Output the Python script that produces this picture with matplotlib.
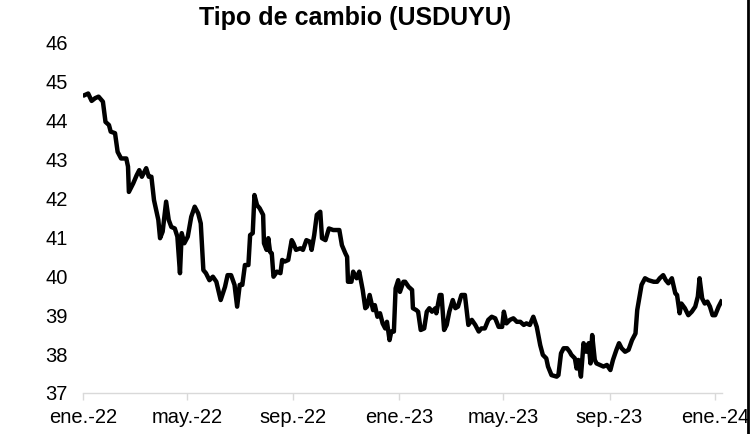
import matplotlib
matplotlib.use("Agg")
import matplotlib.pyplot as plt
from matplotlib.lines import Line2D
import pandas as pd

plt.rcParams['font.family'] = ['Liberation Sans', 'DejaVu Sans']

# USDUYU, valores
dates = [
    "2022-01-03", "2022-01-07", "2022-01-11", "2022-01-15", "2022-01-19", "2022-01-24", "2022-01-27", "2022-01-31",
    "2022-02-02", "2022-02-07", "2022-02-10", "2022-02-14", "2022-02-20", "2022-02-22", "2022-02-23", "2022-02-28",
    "2022-03-04", "2022-03-07", "2022-03-10", "2022-03-15", "2022-03-18", "2022-03-21", "2022-03-24", "2022-03-29",
    "2022-03-31", "2022-04-03", "2022-04-07", "2022-04-10", "2022-04-13", "2022-04-17", "2022-04-20", "2022-04-23",
    "2022-04-25", "2022-04-28", "2022-05-02", "2022-05-06", "2022-05-10", "2022-05-14", "2022-05-17", "2022-05-20",
    "2022-05-23", "2022-05-27", "2022-05-31", "2022-06-04", "2022-06-09", "2022-06-14", "2022-06-17", "2022-06-21",
    "2022-06-25", "2022-06-28", "2022-07-01", "2022-07-04", "2022-07-07", "2022-07-11", "2022-07-13", "2022-07-16",
    "2022-07-18", "2022-07-21", "2022-07-24", "2022-07-28", "2022-07-29", "2022-08-01", "2022-08-03", "2022-08-05",
    "2022-08-07", "2022-08-09", "2022-08-13", "2022-08-17", "2022-08-19", "2022-08-22", "2022-08-26", "2022-08-30",
    "2022-09-01", "2022-09-04", "2022-09-09", "2022-09-12", "2022-09-16", "2022-09-20", "2022-09-22", "2022-09-25",
    "2022-09-28", "2022-10-02", "2022-10-04", "2022-10-08", "2022-10-12", "2022-10-17", "2022-10-24", "2022-10-27",
    "2022-10-31", "2022-11-02", "2022-11-03", "2022-11-07", "2022-11-09", "2022-11-13", "2022-11-16", "2022-11-20",
    "2022-11-23", "2022-11-25", "2022-11-28", "2022-12-02", "2022-12-04", "2022-12-07", "2022-12-10", "2022-12-13",
    "2022-12-16", "2022-12-18", "2022-12-21", "2022-12-23", "2022-12-26", "2022-12-28", "2022-12-31", "2023-01-02",
    "2023-01-06", "2023-01-08", "2023-01-12", "2023-01-16", "2023-01-17", "2023-01-21", "2023-01-23", "2023-01-26",
    "2023-01-30", "2023-02-02", "2023-02-05", "2023-02-08", "2023-02-12", "2023-02-13", "2023-02-17", "2023-02-19",
    "2023-02-22", "2023-02-25", "2023-02-28", "2023-03-04", "2023-03-07", "2023-03-10", "2023-03-14", "2023-03-18",
    "2023-03-22", "2023-03-26", "2023-03-30", "2023-04-03", "2023-04-06", "2023-04-10", "2023-04-14", "2023-04-18",
    "2023-04-22", "2023-04-26", "2023-04-30", "2023-05-02", "2023-05-05", "2023-05-09", "2023-05-13", "2023-05-17",
    "2023-05-21", "2023-05-25", "2023-05-28", "2023-06-01", "2023-06-05", "2023-06-09", "2023-06-13", "2023-06-16",
    "2023-06-20", "2023-06-22", "2023-06-26", "2023-07-02", "2023-07-04", "2023-07-07", "2023-07-10", "2023-07-14",
    "2023-07-17", "2023-07-19", "2023-07-23", "2023-07-25", "2023-07-27", "2023-07-30", "2023-08-02", "2023-08-05",
    "2023-08-08", "2023-08-10", "2023-08-12", "2023-08-15", "2023-08-17", "2023-08-21", "2023-08-25", "2023-08-29",
    "2023-09-02", "2023-09-05", "2023-09-09", "2023-09-12", "2023-09-15", "2023-09-19", "2023-09-23", "2023-09-27",
    "2023-10-01", "2023-10-03", "2023-10-05", "2023-10-08", "2023-10-12", "2023-10-16", "2023-10-22", "2023-10-26",
    "2023-10-29", "2023-11-02", "2023-11-05", "2023-11-08", "2023-11-12", "2023-11-16", "2023-11-18", "2023-11-21",
    "2023-11-23", "2023-11-27", "2023-12-01", "2023-12-05", "2023-12-09", "2023-12-12", "2023-12-14", "2023-12-17",
    "2023-12-20", "2023-12-23", "2023-12-26", "2023-12-29", "2024-01-01", "2024-01-05", "2024-01-08",
]
usduyu = [
    44.66, 44.70, 44.51, 44.58, 44.62, 44.49, 43.97, 43.89,
    43.72, 43.68, 43.20, 43.03, 43.03, 42.82, 42.17, 42.39,
    42.60, 42.73, 42.56, 42.78, 42.56, 42.56, 41.96, 41.45,
    40.98, 41.15, 41.92, 41.45, 41.27, 41.23, 41.02, 40.08,
    41.11, 40.85, 41.02, 41.53, 41.79, 41.62, 41.36, 40.16,
    40.08, 39.90, 39.99, 39.86, 39.39, 39.73, 40.03, 40.03,
    39.78, 39.22, 39.78, 39.78, 40.29, 40.29, 41.06, 41.11,
    42.09, 41.83, 41.75, 41.58, 40.85, 40.68, 40.98, 40.63,
    40.59, 39.99, 40.12, 40.08, 40.42, 40.38, 40.42, 40.93,
    40.85, 40.68, 40.72, 40.68, 40.93, 40.89, 40.68, 41.06,
    41.58, 41.66, 40.98, 40.93, 41.23, 41.19, 41.19, 40.80,
    40.59, 40.50, 39.86, 39.86, 40.12, 39.95, 40.12, 39.65,
    39.18, 39.22, 39.52, 39.13, 39.26, 38.96, 39.05, 38.79,
    38.66, 38.83, 38.36, 38.58, 38.58, 39.69, 39.90, 39.60,
    39.86, 39.86, 39.73, 39.65, 39.18, 39.13, 39.09, 38.62,
    38.66, 39.09, 39.18, 39.09, 39.18, 39.05, 39.52, 39.52,
    38.62, 38.75, 39.09, 39.39, 39.18, 39.22, 39.52, 39.52,
    38.75, 38.88, 38.75, 38.58, 38.66, 38.66, 38.88, 38.96,
    38.92, 38.70, 38.70, 39.09, 38.79, 38.88, 38.92, 38.83,
    38.83, 38.75, 38.79, 38.75, 38.96, 38.70, 38.23, 37.98,
    37.89, 37.68, 37.46, 37.42, 37.46, 38.02, 38.15, 38.15,
    38.06, 37.98, 37.89, 37.63, 37.85, 37.42, 38.28, 38.06,
    38.28, 37.76, 38.49, 37.85, 37.76, 37.72, 37.68, 37.72,
    37.59, 37.85, 38.11, 38.28, 38.15, 38.06, 38.11, 38.36,
    38.53, 39.13, 39.39, 39.78, 39.95, 39.90, 39.86, 39.86,
    39.95, 40.03, 39.90, 39.82, 39.95, 39.56, 39.52, 39.05,
    39.30, 39.18, 39.00, 39.09, 39.22, 39.48, 39.95, 39.43,
    39.30, 39.35, 39.22, 39.00, 39.00, 39.22, 39.35,
]
tick_dates = ["2022-01-01", "2022-05-01", "2022-09-01", "2023-01-01",
              "2023-05-01", "2023-09-01", "2024-01-01"]
tick_labels = ["ene.-22", "may.-22", "sep.-22", "ene.-23",
               "may.-23", "sep.-23", "ene.-24"]
y_ticks = [37, 38, 39, 40, 41, 42, 43, 44, 45, 46]

x = pd.to_datetime(dates)

fig = plt.figure(figsize=(7.51, 4.34), dpi=100)
ax = fig.add_axes([0.1105, 0.0945, 0.851, 0.8065])

ax.plot(x, usduyu, color='black', linewidth=3.2, solid_joinstyle='round')

ax.set_ylim(37, 46)
ax.set_yticks(y_ticks)
ax.set_xlim(pd.Timestamp("2022-01-01"), pd.Timestamp("2024-01-09"))
ax.set_xticks(pd.to_datetime(tick_dates))
ax.set_xticklabels(tick_labels)

for s in ['top', 'right', 'left']:
    ax.spines[s].set_visible(False)
ax.spines['bottom'].set_color('#d9d9d9')
ax.spines['bottom'].set_linewidth(1)

ax.tick_params(axis='y', length=0, pad=11, labelsize=14.5)
ax.tick_params(axis='x', length=5, color='#d9d9d9', width=1, pad=6, labelsize=14.5)

fig.text(0.473, 0.958, "Tipo de cambio (USDUYU)", ha='center', va='center',
         fontsize=18, fontweight='bold')

# borde derecho del grafico original
fig.add_artist(Line2D([0.9965, 0.9965], [0, 1], transform=fig.transFigure,
                      color='black', linewidth=2))

fig.savefig("out.png", dpi=100)
